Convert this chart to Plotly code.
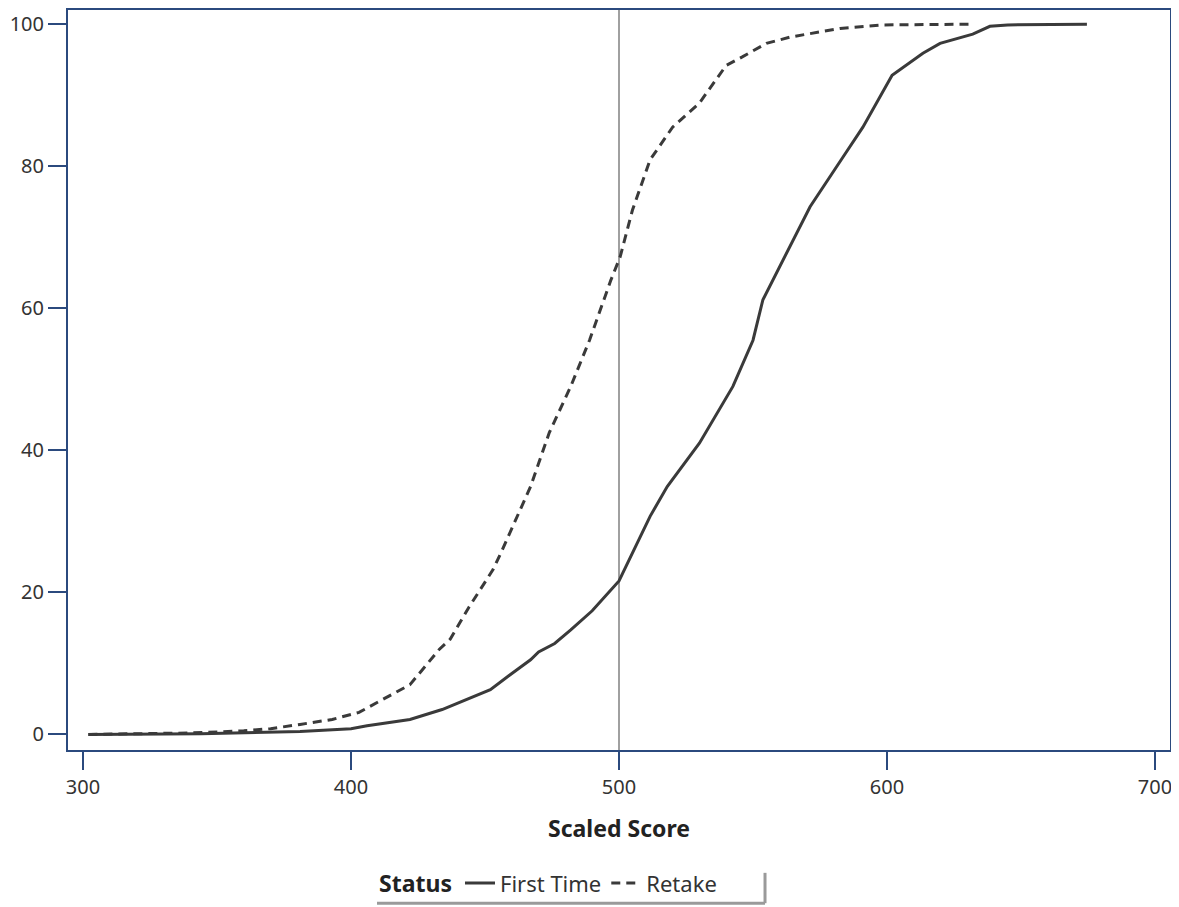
import plotly.graph_objects as go

first_x = [302, 344, 381, 400, 406, 422, 434, 452, 459, 467, 470, 476, 482, 490, 500,
           511.6, 518, 530, 542.5, 550, 553.7, 571.3, 583.6, 591, 601.9, 613.4, 619.8,
           632, 638.4, 645, 674.6]
first_y = [0, 0.1, 0.4, 0.8, 1.2, 2.1, 3.5, 6.3, 8.3, 10.5, 11.6, 12.8, 14.7, 17.4, 21.6,
           30.7, 34.9, 41, 49, 55.5, 61.2, 74.3, 81.3, 85.5, 92.8, 95.9, 97.3,
           98.6, 99.7, 99.9, 100]

retake_x = [302, 340, 360, 370, 381, 393, 403, 412, 422, 433, 437, 444, 453, 456, 467,
            474, 482, 489, 497, 500.4, 505, 511.6, 520, 530, 540, 546, 555, 564, 582.5,
            598.5, 632]
retake_y = [0, 0.2, 0.5, 0.8, 1.4, 2.1, 3.1, 4.9, 7.0, 12, 13.4, 17.9, 23.2, 25.6, 34.9,
            42.5, 49, 55.5, 64, 67.2, 73.8, 80.9, 85.5, 88.9, 94.2, 95.4, 97.3, 98.2, 99.4,
            99.9, 100]

x_ticks = [300, 400, 500, 600, 700]
y_ticks = [0, 20, 40, 60, 80, 100]
ref_score = 500

AXIS = "#2b4a7e"
LINE = "#3a3a3a"
FONT = "Noto Sans"

fig = go.Figure()
fig.add_trace(go.Scatter(x=first_x, y=first_y, mode="lines", name="First Time",
                         line=dict(color=LINE, width=3)))
fig.add_trace(go.Scatter(x=retake_x, y=retake_y, mode="lines", name="Retake",
                         line=dict(color=LINE, width=3, dash="9px,6px")))

fig.add_shape(type="line", xref="x", yref="paper", x0=ref_score, x1=ref_score, y0=0, y1=1,
              line=dict(color="#808080", width=1.5), layer="below")

# legend frame (shadow-like right/bottom edges)
fig.add_shape(type="line", xref="paper", yref="paper", x0=0.2804, x1=0.6325, y0=-0.207, y1=-0.207,
              line=dict(color="#9a9a9a", width=3))
fig.add_shape(type="line", xref="paper", yref="paper", x0=0.6325, x1=0.6325, y0=-0.207, y1=-0.166,
              line=dict(color="#9a9a9a", width=3))

# page body adds an 8px offset; compensate so the plot frame sits at 68..1170 x 10..750
fig.update_layout(
    width=1171, height=899,
    margin=dict(l=60, r=9, t=2, b=157, autoexpand=False),
    paper_bgcolor="white", plot_bgcolor="white",
    font=dict(family=FONT, color="#333333", size=20),
    showlegend=True,
    legend=dict(orientation="h", x=0.437, xanchor="center", y=-0.18, yanchor="middle",
                title=dict(text="<b>Status</b>", font=dict(size=23, color="#222222")),
                font=dict(size=22, color="#333333"), itemwidth=30,
                bgcolor="rgba(0,0,0,0)"),
    xaxis=dict(range=[294.4, 705.6], tickvals=x_ticks, ticks="outside", ticklen=18,
               tickwidth=2, tickcolor=AXIS, showline=True, linecolor=AXIS, linewidth=2,
               mirror=True, showgrid=False, zeroline=False, automargin=False,
               tickfont=dict(size=20, color="#333333"),
               title=dict(text="<b>Scaled Score</b>", font=dict(size=23, color="#222222"),
                          standoff=22)),
    yaxis=dict(range=[-2.2, 102], tickvals=y_ticks, ticks="outside", ticklen=18,
               tickwidth=2, tickcolor=AXIS, showline=True, linecolor=AXIS, linewidth=2,
               mirror=True, showgrid=False, zeroline=False, automargin=False,
               tickfont=dict(size=20, color="#333333")),
)

fig.write_html("out.html")
